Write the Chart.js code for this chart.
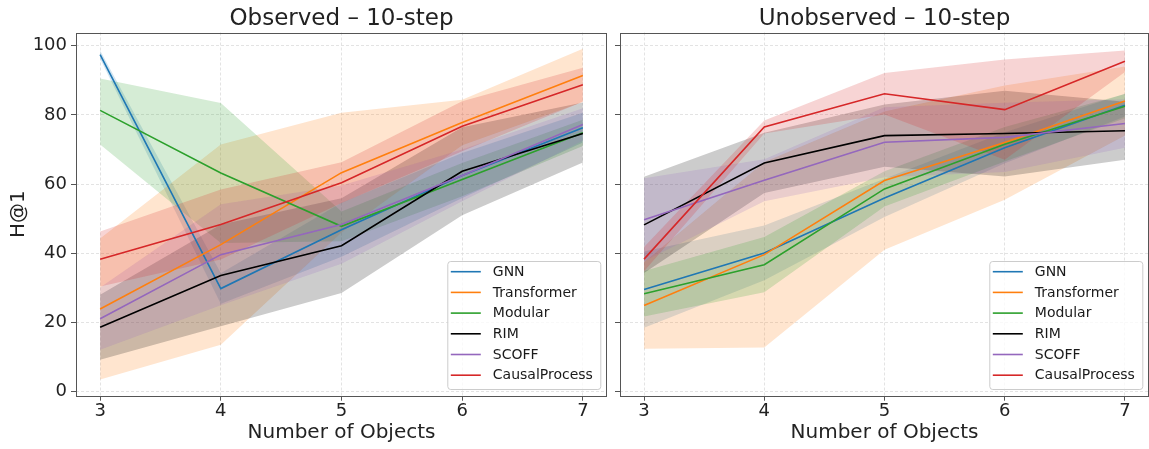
<!DOCTYPE html>
<html>
<head>
<meta charset="utf-8">
<script src="https://cdn.jsdelivr.net/npm/chart.js@4.4.1/dist/chart.umd.min.js"></script>
<style>
    html, body { margin: 0; padding: 0; background: #fff; }
    #wrap { position: relative; width: 1149px; height: 449px; }
    #obsChart { position: absolute; left: 0; top: 0; }
    #unobsChart { position: absolute; left: 610px; top: 0; }
</style>
</head>
<body>
<div id="wrap">
    <canvas id="obsChart" width="607" height="449"></canvas>
    <canvas id="unobsChart" width="539" height="449"></canvas>
</div>
<script>
// --- DATA ---
const objects = [3, 4, 5, 6, 7];
const xTicks = [3, 4, 5, 6, 7];
const yTicks = [0, 20, 40, 60, 80, 100];
const methods = ['GNN', 'Transformer', 'Modular', 'RIM', 'SCOFF', 'CausalProcess'];
const colors = ['#1f77b4', '#ff7f0e', '#2ca02c', '#000000', '#9467bd', '#d62728'];

// Observed - mean and std band per method
const obsGNN = [97.4, 29.8, 46.8, 62.5, 76.3];
const obsGNNLo = [96.2, 25.4, 39.0, 56.0, 72.0];
const obsGNNHi = [98.6, 34.2, 54.6, 69.0, 80.6];
const obsTransformer = [23.9, 42.5, 63.3, 77.8, 91.4];
const obsTransformerLo = [3.5, 13.6, 46.0, 71.2, 83.7];
const obsTransformerHi = [44.3, 71.4, 80.6, 84.4, 99.1];
const obsModular = [81.3, 63.2, 47.8, 61.3, 74.8];
const obsModularLo = [71.4, 43.0, 43.5, 56.5, 71.0];
const obsModularHi = [90.5, 83.4, 52.1, 66.1, 78.6];
const obsRIM = [18.6, 33.6, 42.2, 63.7, 74.6];
const obsRIMLo = [9.2, 18.9, 28.5, 51.0, 66.2];
const obsRIMHi = [28.0, 48.3, 55.9, 76.4, 83.6];
const obsSCOFF = [21.1, 39.6, 48.3, 62.5, 77.2];
const obsSCOFFLo = [12.1, 25.0, 37.0, 55.0, 72.5];
const obsSCOFFHi = [30.1, 54.2, 59.6, 70.0, 81.9];
const obsCausal = [38.3, 48.3, 60.4, 76.7, 88.7];
const obsCausalLo = [30.4, 38.2, 54.5, 69.5, 83.8];
const obsCausalHi = [46.3, 58.4, 66.3, 83.9, 93.6];

// Unobserved - mean and std band per method
const unobsGNN = [29.5, 40.1, 56.0, 70.5, 82.8];
const unobsGNNLo = [18.5, 32.2, 50.5, 66.0, 79.5];
const unobsGNNHi = [40.5, 48.0, 61.5, 75.0, 86.1];
const unobsTransformer = [24.9, 39.6, 61.0, 72.0, 84.0];
const unobsTransformerLo = [12.4, 12.8, 41.0, 55.5, 74.0];
const unobsTransformerHi = [37.4, 66.4, 81.0, 88.5, 94.0];
const unobsModular = [28.3, 36.7, 58.6, 71.5, 82.5];
const unobsModularLo = [21.7, 28.7, 53.5, 66.5, 79.0];
const unobsModularHi = [34.9, 44.7, 63.7, 76.5, 86.0];
const unobsRIM = [48.2, 66.1, 74.0, 74.6, 75.4];
const unobsRIMLo = [34.3, 57.4, 65.0, 62.2, 67.0];
const unobsRIMHi = [62.1, 74.8, 83.0, 87.0, 83.8];
const unobsSCOFF = [49.7, 61.1, 72.1, 73.5, 77.5];
const unobsSCOFFLo = [37.7, 55.0, 62.0, 63.5, 70.5];
const unobsSCOFFHi = [61.7, 67.2, 82.2, 83.5, 84.5];
const unobsCausal = [38.3, 76.5, 86.1, 81.5, 95.5];
const unobsCausalLo = [34.8, 74.6, 80.1, 67.0, 92.4];
const unobsCausalHi = [41.8, 78.4, 92.1, 96.0, 98.6];

const obsSeries = [
    [obsGNN, obsGNNLo, obsGNNHi],
    [obsTransformer, obsTransformerLo, obsTransformerHi],
    [obsModular, obsModularLo, obsModularHi],
    [obsRIM, obsRIMLo, obsRIMHi],
    [obsSCOFF, obsSCOFFLo, obsSCOFFHi],
    [obsCausal, obsCausalLo, obsCausalHi]
];
const unobsSeries = [
    [unobsGNN, unobsGNNLo, unobsGNNHi],
    [unobsTransformer, unobsTransformerLo, unobsTransformerHi],
    [unobsModular, unobsModularLo, unobsModularHi],
    [unobsRIM, unobsRIMLo, unobsRIMHi],
    [unobsSCOFF, unobsSCOFFLo, unobsSCOFFHi],
    [unobsCausal, unobsCausalLo, unobsCausalHi]
];

Chart.defaults.font.family = '"DejaVu Sans", sans-serif';
Chart.defaults.color = '#222';

function hexToRgba(hex, a) {
    const n = parseInt(hex.slice(1), 16);
    return `rgba(${(n >> 16) & 255}, ${(n >> 8) & 255}, ${n & 255}, ${a})`;
}

const pts = arr => objects.map((x, j) => ({ x: x, y: arr[j] }));

function buildDatasets(series) {
    const lines = [];
    const bands = [];
    series.forEach((s, i) => {
        lines.push({
            label: methods[i],
            data: pts(s[0]),
            borderColor: colors[i],
            borderWidth: 1.6,
            pointRadius: 0,
            fill: false,
            tension: 0,
            order: 50 - i
        });
        // upper edge fills down to the lower edge pushed right after it
        bands.push({
            label: methods[i] + ' hi',
            data: pts(s[2]),
            borderWidth: 0,
            borderColor: 'rgba(0,0,0,0)',
            backgroundColor: hexToRgba(colors[i], 0.2),
            pointRadius: 0,
            fill: '+1',
            order: 100 - i
        });
        bands.push({
            label: methods[i] + ' lo',
            data: pts(s[1]),
            borderWidth: 0,
            borderColor: 'rgba(0,0,0,0)',
            pointRadius: 0,
            fill: false,
            order: 100 - i
        });
    });
    return lines.concat(bands);
}

// panel title centred over the plot area, like matplotlib's ax.set_title
const panelTitlePlugin = {
    id: 'panelTitle',
    afterDraw(chart, args, opts) {
        const { ctx, chartArea: a } = chart;
        ctx.save();
        ctx.font = '23px "DejaVu Sans"';
        ctx.fillStyle = '#222';
        ctx.textAlign = 'center';
        ctx.textBaseline = 'middle';
        ctx.fillText(opts.text, (a.left + a.right) / 2, 19);
        ctx.restore();
    }
};

// frame + legend drawn inside the plot like matplotlib
const framePlugin = {
    id: 'frame',
    afterDatasetsDraw(chart) {
        const { ctx, chartArea: a } = chart;
        ctx.save();
        ctx.strokeStyle = '#555';
        ctx.lineWidth = 1;
        ctx.strokeRect(Math.round(a.left) + 0.5, Math.round(a.top) + 0.5,
            Math.round(a.right - a.left) - 1, Math.round(a.bottom - a.top));

        // legend box
        const w = 153, h = 128;
        const x0 = a.right - 6.7 - w;
        const y0 = a.bottom - 6.7 - h;
        ctx.beginPath();
        ctx.roundRect(x0 + 0.5, y0 + 0.5, w, h, 3);
        ctx.fillStyle = 'rgba(255,255,255,0.8)';
        ctx.fill();
        ctx.strokeStyle = '#cccccc';
        ctx.stroke();
        ctx.font = '14px "DejaVu Sans"';
        ctx.textBaseline = 'middle';
        ctx.textAlign = 'left';
        methods.forEach((m, i) => {
            const yy = y0 + 10.7 + i * 20.7;
            ctx.beginPath();
            ctx.strokeStyle = colors[i];
            ctx.lineWidth = 1.6;
            ctx.moveTo(x0 + 3.5, yy);
            ctx.lineTo(x0 + 33.5, yy);
            ctx.stroke();
            ctx.fillStyle = '#1a1a1a';
            ctx.fillText(m, x0 + 45.5, yy + 0.5);
        });
        ctx.restore();
    }
};

function makeChart(canvasId, series, title, showYLabels) {
    return new Chart(document.getElementById(canvasId), {
        type: 'line',
        data: { datasets: buildDatasets(series) },
        options: {
            responsive: false,
            animation: false,
            layout: { padding: { top: 32.5, left: 0, right: 0, bottom: 0 } },
            plugins: {
                legend: { display: false },
                tooltip: { enabled: false },
                title: { display: false },
                panelTitle: { text: title }
            },
            scales: {
                x: {
                    type: 'linear',
                    min: 2.8,
                    max: 7.2,
                    afterBuildTicks: s => { s.ticks = xTicks.map(v => ({ value: v })); },
                    afterFit: s => { s.height = 53.3; },
                    ticks: { font: { size: 18 }, color: '#222', padding: 0, maxRotation: 0 },
                    grid: { color: '#dcdcdc', lineWidth: 0.8, tickLength: 5, tickColor: '#555', tickWidth: 1 },
                    border: { display: false, dash: [3, 2] },
                    title: {
                        display: true,
                        text: 'Number of Objects',
                        font: { size: 20 },
                        color: '#222',
                        padding: { top: 0, bottom: 4.7 }
                    }
                },
                y: {
                    type: 'linear',
                    min: -1.16,
                    max: 103.8,
                    afterBuildTicks: s => { s.ticks = yTicks.map(v => ({ value: v })); },
                    afterFit: s => { s.width = showYLabels ? 76 : 10; },
                    ticks: {
                        font: { size: 18 },
                        color: '#222',
                        padding: 4,
                        callback: v => showYLabels ? String(v) : ''
                    },
                    grid: { color: '#dcdcdc', lineWidth: 0.8, tickLength: 5, tickColor: '#555', tickWidth: 1 },
                    border: { display: false, dash: [3, 2] },
                    title: {
                        display: showYLabels,
                        text: 'H@1',
                        font: { size: 20 },
                        color: '#222',
                        padding: { top: 7, bottom: 0 }
                    }
                }
            }
        },
        plugins: [framePlugin, panelTitlePlugin]
    });
}

makeChart('obsChart', obsSeries, 'Observed \u2013 10-step', true);
makeChart('unobsChart', unobsSeries, 'Unobserved \u2013 10-step', false);
</script>
</body>
</html>
